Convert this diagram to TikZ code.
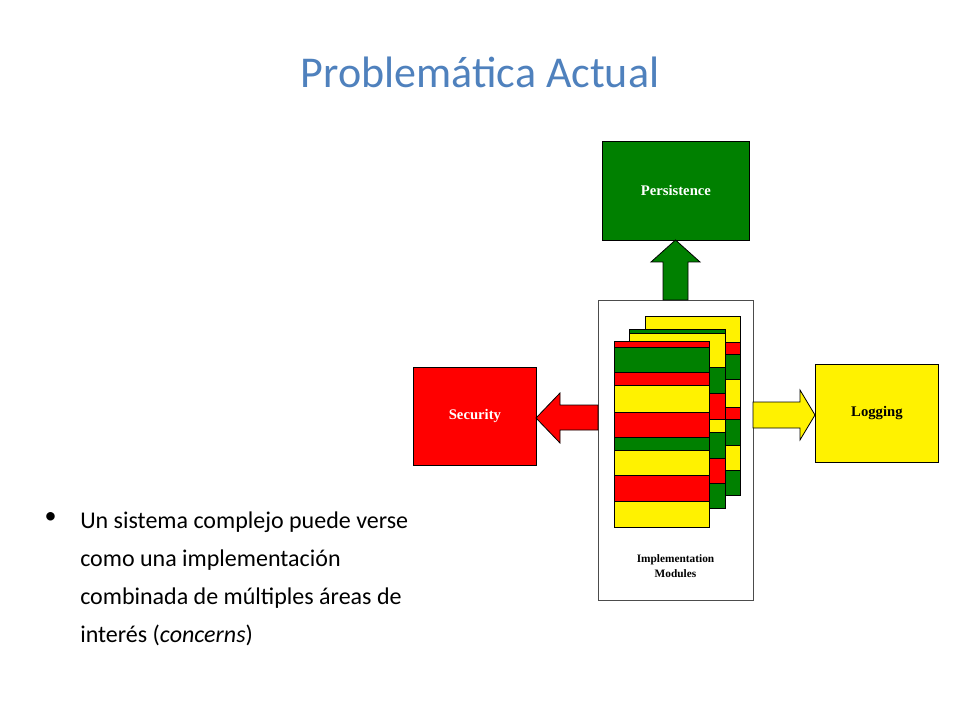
\documentclass[tikz,border=0pt]{standalone}
\usepackage{fontspec}
\setmainfont{Carlito}
\newfontfamily\boxfont{Liberation Serif}
\definecolor{dkgreen}{RGB}{0,128,0}
\definecolor{titleblue}{RGB}{79,129,189}
\tikzset{
  concern/.style={draw=black, line width=0.6pt, minimum width=0pt, inner sep=0pt},
  boxlabel/.style={font=\boxfont\bfseries\fontsize{11}{13}\selectfont},
}
% one sheet: left, right, then list of top/colour pairs ending with the bottom
\newcommand{\sheetstack}[3]{%
  \foreach \ya/\yb/\c in {#3} {
    \filldraw[fill=\c, draw=black, line width=0.6pt] (#1,\ya) rectangle (#2,\yb);
  }}
\begin{document}
\begin{tikzpicture}[x=0.75pt,y=-0.75pt]
	\useasboundingbox (0,0) rectangle (960,720);

	\node[text=titleblue, font=\fontsize{33}{40}\selectfont] (title) at (480,72) {Problemática Actual};

	% boxes
	\node[concern, fill=dkgreen, minimum width=110.25pt, minimum height=74.25pt, anchor=north west] (pers) at (602,141) {};
	\node[boxlabel, text=white] (perslabel) at (pers.center) {Persistence};
	\node[concern, fill=red, minimum width=92.25pt, minimum height=73.5pt, anchor=north west] (sec) at (413,367) {};
	\node[boxlabel, text=white] (seclabel) at (sec.center) {Security};
	\node[concern, fill=yellow, minimum width=92.25pt, minimum height=73.5pt, anchor=north west] (log) at (815,364) {};
	\node[boxlabel, text=black] (loglabel) at (log.center) {Logging};
	\node[draw=black!70, fill=white, line width=0.6pt, minimum width=116.25pt, minimum height=225pt, anchor=north west] (impl) at (598,300) {};

	% fat arrows
	\filldraw[fill=dkgreen, draw=black, line width=0.6pt] (663,300) -- (663,262) -- (651,262) -- (675.5,240) -- (700,262) -- (688,262) -- (688,300) -- cycle;
	\filldraw[fill=red, draw=black, line width=0.6pt] (598,405) -- (560,405) -- (560,393) -- (536,418) -- (560,443) -- (560,430) -- (598,430) -- cycle;
	\filldraw[fill=yellow, draw=black, line width=0.6pt] (753,402) -- (800,402) -- (800,390) -- (815,415) -- (800,440) -- (800,428) -- (753,428) -- cycle;

	% sheets, back to front
	\sheetstack{645}{740}{316/342/yellow, 342/354/red, 354/379/dkgreen, 379/407/yellow, 407/419/red, 419/445/dkgreen, 445/470/yellow, 470/495/dkgreen}
	\sheetstack{629}{725}{329/333/dkgreen, 333/367/yellow, 367/393/dkgreen, 393/419/red, 419/432/yellow, 432/458/dkgreen, 458/483/red, 483/508/dkgreen}
	\sheetstack{614}{709}{341/347/red, 347/372/dkgreen, 372/385/red, 385/412/yellow, 412/437/red, 437/450/dkgreen, 450/475/yellow, 475/501/red, 501/527/yellow}

	\node[font=\boxfont\bfseries\fontsize{8.5}{11}\selectfont, align=center] (impllabel) at (675.5,566) {Implementation\\Modules};

	% bullet
	\node[font=\fontsize{18}{21.4}\selectfont, anchor=north west] (dot) at (40,508) {•};
	\node[font=\fontsize{18}{28.5}\selectfont, align=left, anchor=north west, inner sep=0pt] (bullet) at (80,512)
	  {Un sistema complejo puede verse\\como una implementación\\combinada de múltiples áreas de\\interés (\textit{concerns})};
\end{tikzpicture}
\end{document}
